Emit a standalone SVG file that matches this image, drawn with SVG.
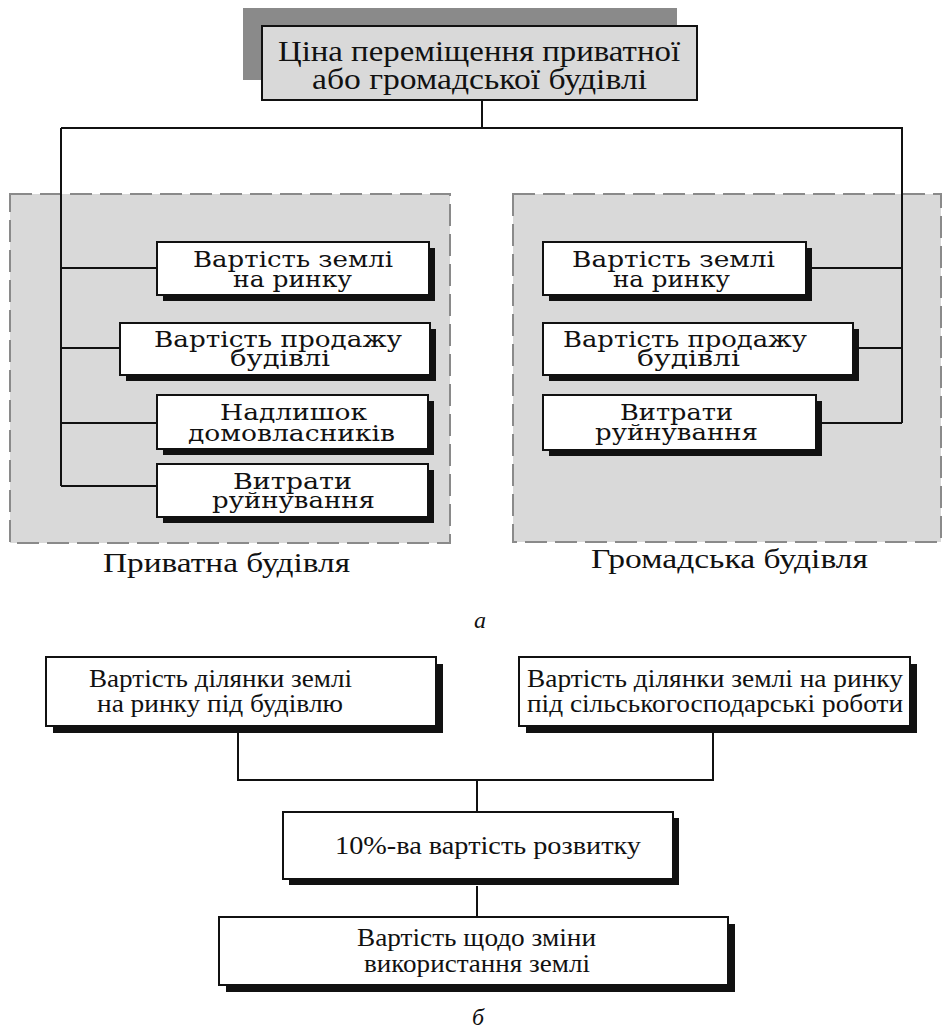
<svg xmlns="http://www.w3.org/2000/svg" width="944" height="1030" viewBox="0 0 944 1030">
<style>
text{font-family:"Liberation Serif","Times New Roman",serif;fill:#111}
.t{font-family:"DejaVu Serif","Liberation Serif",serif;font-size:23px}
.h{font-size:30px}
.b{font-size:25px}
.cap{font-size:27px}
.it{font-size:24px;font-style:italic}
.box{fill:#fff;stroke:#111;stroke-width:2}
.sh{fill:#111}
.panel{fill:#d9d9d9;stroke:#8a8a8a;stroke-width:2;stroke-dasharray:22 8}
.ln{fill:none;stroke:#111;stroke-width:2}
</style>
<g id="panel-private">
<rect class="panel" x="10" y="194" width="440" height="349"/>
<text class="cap" x="103" y="572" textLength="247" lengthAdjust="spacingAndGlyphs">Приватна будівля</text>
</g>
<g id="panel-public">
<rect class="panel" x="513" y="194" width="428" height="348"/>
<text class="cap" x="591" y="568" textLength="277" lengthAdjust="spacingAndGlyphs">Громадська будівля</text>
</g>
<g id="connectors">
<path class="ln" d="M482 100V128M61 128H903M61 128V486M61 268H157M61 348H120M61 423H157M61 486H157"/>
<path class="ln" d="M902 128V423M812 268H902M859 348H902M822 423H902"/>
<path class="ln" d="M238 733V780H713V733M477 780V812M477 886V917"/>
</g>
<g id="root">
<rect x="243" y="8" width="434" height="72" fill="#8a8a8a"/>
<rect x="262" y="26" width="435" height="74" fill="#d9d9d9" stroke="#111" stroke-width="2"/>
<text class="h" x="278" y="61" textLength="402" lengthAdjust="spacingAndGlyphs">Ціна переміщення приватної</text>
<text class="h" x="312" y="89" textLength="335" lengthAdjust="spacingAndGlyphs">або громадської будівлі</text>
</g>
<g id="p-land">
<rect class="sh" x="163" y="248" width="272" height="53"/>
<rect class="box" x="157" y="242" width="272" height="53"/>
<text class="t" x="193" y="267" textLength="200" lengthAdjust="spacingAndGlyphs">Вартість землі</text>
<text class="t" x="233" y="287" textLength="119" lengthAdjust="spacingAndGlyphs">на ринку</text>
</g>
<g id="p-sale">
<rect class="sh" x="126" y="329" width="310" height="52"/>
<rect class="box" x="120" y="323" width="310" height="52"/>
<text class="t" x="154" y="347" textLength="248" lengthAdjust="spacingAndGlyphs">Вартість продажу</text>
<text class="t" x="230" y="366" textLength="100" lengthAdjust="spacingAndGlyphs">будівлі</text>
</g>
<g id="p-surplus">
<rect class="sh" x="163" y="401" width="271" height="54"/>
<rect class="box" x="157" y="395" width="271" height="54"/>
<text class="t" x="220" y="420" textLength="147" lengthAdjust="spacingAndGlyphs">Надлишок</text>
<text class="t" x="188" y="441" textLength="207" lengthAdjust="spacingAndGlyphs">домовласників</text>
</g>
<g id="p-demolition">
<rect class="sh" x="163" y="470" width="271" height="53"/>
<rect class="box" x="157" y="464" width="271" height="53"/>
<text class="t" x="233" y="489" textLength="119" lengthAdjust="spacingAndGlyphs">Витрати</text>
<text class="t" x="212" y="508" textLength="163" lengthAdjust="spacingAndGlyphs">руйнування</text>
</g>
<g id="g-land">
<rect class="sh" x="549" y="248" width="263" height="53"/>
<rect class="box" x="543" y="242" width="263" height="53"/>
<text class="t" x="572" y="267" textLength="203" lengthAdjust="spacingAndGlyphs">Вартість землі</text>
<text class="t" x="613" y="287" textLength="117" lengthAdjust="spacingAndGlyphs">на ринку</text>
</g>
<g id="g-sale">
<rect class="sh" x="549" y="329" width="310" height="52"/>
<rect class="box" x="543" y="323" width="310" height="52"/>
<text class="t" x="563" y="347" textLength="244" lengthAdjust="spacingAndGlyphs">Вартість продажу</text>
<text class="t" x="637" y="366" textLength="103" lengthAdjust="spacingAndGlyphs">будівлі</text>
</g>
<g id="g-demolition">
<rect class="sh" x="549" y="401" width="273" height="55"/>
<rect class="box" x="543" y="395" width="273" height="55"/>
<text class="t" x="620" y="420" textLength="113" lengthAdjust="spacingAndGlyphs">Витрати</text>
<text class="t" x="595" y="440" textLength="163" lengthAdjust="spacingAndGlyphs">руйнування</text>
</g>
<text class="it" x="480" y="628" text-anchor="middle">а</text>
<g id="b-building">
<rect class="sh" x="53" y="664" width="390" height="69"/>
<rect class="box" x="46" y="657" width="390" height="69"/>
<text class="b" x="89" y="687" textLength="263" lengthAdjust="spacingAndGlyphs">Вартість ділянки землі</text>
<text class="b" x="97" y="712" textLength="246" lengthAdjust="spacingAndGlyphs">на ринку під будівлю</text>
</g>
<g id="b-agri">
<rect class="sh" x="526" y="664" width="391" height="69"/>
<rect class="box" x="519" y="657" width="391" height="69"/>
<text class="b" x="527" y="687" textLength="376" lengthAdjust="spacingAndGlyphs">Вартість ділянки землі на ринку</text>
<text class="b" x="527" y="712" textLength="376" lengthAdjust="spacingAndGlyphs">під сільськогосподарські роботи</text>
</g>
<g id="b-dev">
<rect class="sh" x="289" y="818" width="390" height="67"/>
<rect class="box" x="283" y="812" width="390" height="67"/>
<text class="b" x="335" y="854" textLength="306" lengthAdjust="spacingAndGlyphs">10%-ва вартість розвитку</text>
</g>
<g id="b-change">
<rect class="sh" x="226" y="924" width="509" height="68"/>
<rect class="box" x="219" y="917" width="509" height="68"/>
<text class="b" x="357" y="946" textLength="239" lengthAdjust="spacingAndGlyphs">Вартість щодо зміни</text>
<text class="b" x="364" y="972" textLength="226" lengthAdjust="spacingAndGlyphs">використання землі</text>
</g>
<text class="it" x="478" y="1025" text-anchor="middle">б</text>
</svg>
